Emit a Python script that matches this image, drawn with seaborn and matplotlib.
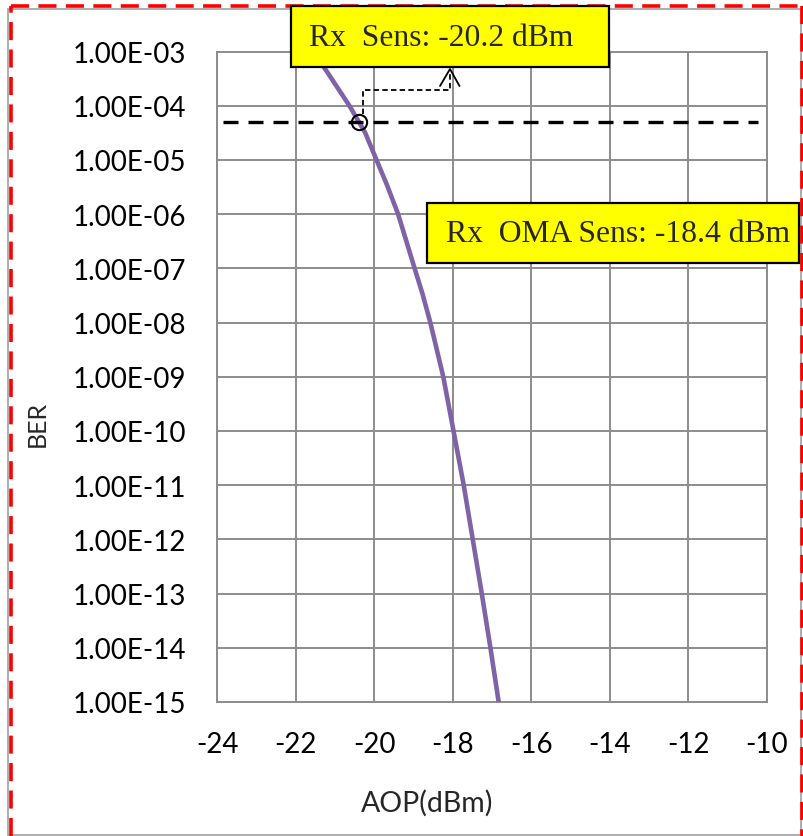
import numpy as np
import pandas as pd
import matplotlib
matplotlib.use("Agg")
import matplotlib.pyplot as plt
import seaborn as sns
from matplotlib.patches import Rectangle
from matplotlib.lines import Line2D
from matplotlib.ticker import FixedLocator, FuncFormatter, NullLocator

# ---- data ----
aop_dbm = [-21.55, -21.25, -20.63, -20.23, -19.94, -19.67, -19.39, -18.97,
           -18.77, -18.57, -18.24, -17.98, -17.72, -17.49, -17.26, -17.04,
           -16.83]
ber = [1e-3, 4.8e-4, 1e-4, 3.2e-5, 1e-5, 3.4e-6, 1e-6, 1e-7,
       3.4e-8, 1e-8, 1e-9, 1e-10, 1e-11, 1e-12, 1e-13, 1e-14, 1e-15]
x_ticks = [-24, -22, -20, -18, -16, -14, -12, -10]
y_ticks = [1e-15, 1e-14, 1e-13, 1e-12, 1e-11, 1e-10, 1e-9, 1e-8,
           1e-7, 1e-6, 1e-5, 1e-4, 1e-3]
ber_target = 5e-5
sens_aop = -20.38
label_sens = "Rx  Sens: -20.2 dBm"
label_oma = "Rx  OMA Sens: -18.4 dBm"

df = pd.DataFrame({"AOP": aop_dbm, "BER": ber})

sns.set_theme(style="white")
plt.rcParams["font.family"] = ["Lato", "DejaVu Sans"]

W, H = 804, 837
fig = plt.figure(figsize=(W / 100, H / 100), dpi=100)

def fx(x):
    return x / W

def fy(y):
    return 1 - y / H

L, R, T, B = 217, 767, 52.5, 703
ax = fig.add_axes([fx(L), fy(B), fx(R) - fx(L), fy(T) - fy(B)])

grid_c = "#8c8c8c"
ax.set_yscale("log")
ax.set_xlim(-24, -10)
ax.set_ylim(1e-15, 1e-3)
ax.xaxis.set_major_locator(FixedLocator(x_ticks))
ax.yaxis.set_major_locator(FixedLocator(y_ticks))
ax.yaxis.set_minor_locator(NullLocator())
ax.yaxis.set_major_formatter(FuncFormatter(lambda v, p: f"{v:.2E}"))
ax.xaxis.set_major_formatter(FuncFormatter(lambda v, p: f"{v:.0f}"))
ax.grid(True, color=grid_c, lw=1.4)
for s in ax.spines.values():
    s.set_color(grid_c)
    s.set_linewidth(1.4)
ax.tick_params(axis="both", length=0, labelsize=20, colors="black")
ax.tick_params(axis="y", pad=22)
ax.tick_params(axis="x", pad=21)

sns.lineplot(data=df, x="AOP", y="BER", ax=ax, sort=False, color="#7f63a6",
             lw=3.3, zorder=3, clip_on=True)
ax.set_xlabel("")
ax.set_ylabel("")

ax.hlines(ber_target, -23.86, -10.23, colors="black", lw=2.4,
          linestyles=(0, (4.5, 3)), zorder=4)
ax.plot([sens_aop], [ber_target], marker="o", ms=11, mfc="none", mec="black",
        mew=1.5, zorder=5)

fig.text(fx(427), fy(803), "AOP(dBm)", ha="center", va="center", fontsize=20.5)
fig.text(fx(37), fy(424), "BER", ha="center", va="center", fontsize=18,
         rotation=90)

# dashed leader with open arrowhead
dash_kw = dict(transform=fig.transFigure, color="black", lw=1.3, zorder=6)
fig.add_artist(Line2D([fx(363), fx(363), fx(450), fx(450)],
                      [fy(115), fy(91), fy(91), fy(72)], ls=(0, (3, 1.8)),
                      **dash_kw))
fig.add_artist(Line2D([fx(440), fx(450), fx(459.5)], [fy(87), fy(70), fy(87)],
                      **dash_kw))

# yellow boxes
def ybox(x0, y0, x1, y1, text, tx):
    fig.add_artist(Rectangle((fx(x0), fy(y1)), fx(x1) - fx(x0), fy(y0) - fy(y1),
                             transform=fig.transFigure, facecolor="#ffff00",
                             edgecolor="black", lw=1.6, zorder=10))
    fig.text(fx(tx), fy((y0 + y1) / 2 + 1), text, ha="left", va="center",
             fontsize=22.8, family=["Liberation Serif", "DejaVu Serif"],
             zorder=11)

ybox(290.7, 7.3, 609, 67.7, label_sens, 309)
ybox(426.7, 204, 799, 264, label_oma, 446)

# outer borders
fig.add_artist(Rectangle((fx(8), fy(835.5)), fx(800.5) - fx(8), fy(9.5) - fy(835.5),
                         transform=fig.transFigure, fill=False,
                         edgecolor="#a0a0a0", lw=1.2, zorder=1))
red_kw = dict(transform=fig.transFigure, color="#ff0000", lw=2.6,
              ls=(0, (5, 2.6)), zorder=2)
fig.add_artist(Line2D([fx(11), fx(11)], [fy(837), fy(6.7)], **red_kw))
fig.add_artist(Line2D([fx(11), fx(802.5)], [fy(6.7), fy(6.7)], **red_kw))
fig.add_artist(Line2D([fx(802.5), fx(802.5)], [fy(6.7), fy(837)], **red_kw))

fig.savefig("out.png", dpi=100)
